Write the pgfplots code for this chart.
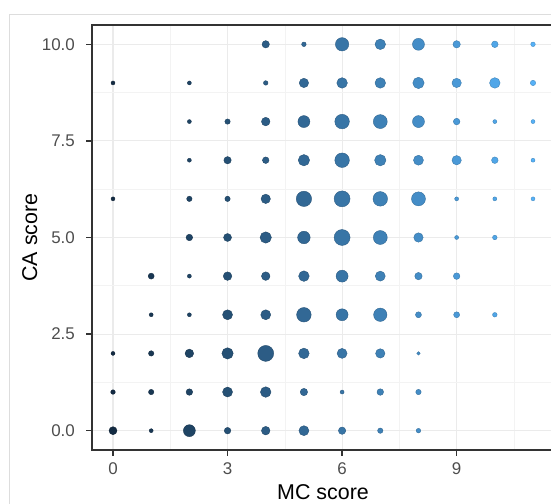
\documentclass[border=0pt]{standalone}
\usepackage{pgfplots}
\pgfplotsset{compat=1.18}
\usepackage{fontspec}
\setmainfont{Liberation Sans}
\definecolor{gridmaj}{HTML}{EBEBEB}
\definecolor{gridmin}{HTML}{F3F3F3}
\definecolor{gthirty}{HTML}{4D4D4D}
\definecolor{gtwenty}{HTML}{333333}
\definecolor{outerframe}{HTML}{DDDDDD}
\begin{document}
\begin{tikzpicture}[x=1bp,y=1bp]
\useasboundingbox (0,0) rectangle (551,504);
\draw[outerframe, line width=0.8bp] (9.5,0) -- (9.5,490) -- (560,490);
\begin{axis}[
  at={(92bp,54bp)}, anchor=south west, scale only axis,
  width=462bp, height=425bp,
  xmin=-0.55, xmax=11.55, ymin=-0.5, ymax=10.5,
  xtick={0,3,6,9}, ytick={0,2.5,5,7.5,10},
  minor xtick={1.5,4.5,7.5,10.5}, minor ytick={1.25,3.75,6.25,8.75},
  grid=both,
  major grid style={gridmaj, line width=1.1bp},
  minor grid style={gridmin, line width=0.6bp},
  axis line style={draw=gtwenty, line width=1.1bp},
  tick align=outside, tick pos=left,
  major tick length=6bp, minor tick length=0pt,
  major tick style={draw=gtwenty, line width=1.3bp},
  yticklabel style={anchor=east, inner sep=0pt, xshift=-11bp, /pgf/number format/.cd, fixed, fixed zerofill, precision=1},
  xticklabel style={anchor=north, inner sep=0pt, yshift=-6bp},
  /pgf/number format/assume math mode=true,
  tick label style={font=\fontsize{17}{17}\selectfont, text=gthirty},
  xlabel={MC score}, ylabel={CA score},
  label style={font=\fontsize{21.5}{21.5}\selectfont, text=black},
  xlabel style={at={(axis description cs:0.5,-0.1165)}, anchor=base},
  ylabel style={at={(axis description cs:-0.119,0.5)}, anchor=base},
  colormap={gg}{rgb255=(19,43,67) rgb255=(86,177,247)},
  point meta min=0, point meta max=11,
]
\addplot[scatter, only marks, mark=*, scatter src=x,
  visualization depends on={\thisrow{r}\as\rad},
  scatter/@pre marker code/.append style={/tikz/mark size=\rad}]
  table[x=x, y=y] {
x y r
4 10 3.7
5 10 2.3
6 10 6.7
7 10 5.3
8 10 6.0
9 10 3.7
10 10 3.3
11 10 2.3
0 9 2.0
2 9 2.0
4 9 2.3
5 9 4.7
6 9 5.3
7 9 5.3
8 9 5.7
9 9 4.7
10 9 5.3
11 9 2.7
2 8 2.0
3 8 2.7
4 8 4.3
5 8 6.0
6 8 7.3
7 8 7.0
8 8 6.0
9 8 3.3
10 8 2.0
11 8 2.0
2 7 2.0
3 7 3.7
4 7 3.3
5 7 5.7
6 7 7.3
7 7 5.7
8 7 5.0
9 7 4.7
10 7 3.3
11 7 2.0
0 6 2.0
2 6 2.7
3 6 2.7
4 6 4.7
5 6 7.7
6 6 8.0
7 6 7.3
8 6 7.0
9 6 2.0
10 6 2.0
11 6 2.0
2 5 3.3
3 5 4.0
4 5 5.7
5 5 6.3
6 5 8.0
7 5 7.0
8 5 4.7
9 5 2.0
10 5 2.3
1 4 3.0
2 4 2.0
3 4 4.3
4 4 4.3
5 4 5.3
6 4 6.0
7 4 5.0
8 4 3.7
9 4 3.3
1 3 2.0
2 3 2.0
3 3 5.0
4 3 5.0
5 3 7.3
6 3 6.0
7 3 6.7
8 3 3.0
9 3 3.0
10 3 2.3
0 2 2.0
1 2 2.7
2 2 4.3
3 2 5.7
4 2 8.0
5 2 5.3
6 2 5.0
7 2 4.7
8 2 1.7
0 1 2.3
1 1 2.7
2 1 3.3
3 1 5.0
4 1 5.3
5 1 3.7
6 1 2.0
7 1 3.3
8 1 2.7
0 0 4.0
1 0 2.0
2 0 6.0
3 0 3.3
4 0 4.3
5 0 5.0
6 0 3.7
7 0 2.7
8 0 2.3
};
\end{axis}
\end{tikzpicture}
\end{document}
